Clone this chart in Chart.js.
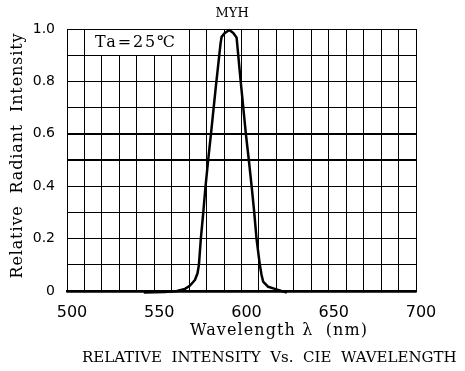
<!DOCTYPE html>
<html>
<head>
<meta charset="utf-8">
<script src="https://cdn.jsdelivr.net/npm/chart.js@4.4.0/dist/chart.umd.min.js"></script>
<style>
  html, body { margin: 0; padding: 0; background: #fff; }
  #wrap { width: 465px; height: 371px; position: relative; }
</style>
</head>
<body>
<div id="wrap"><canvas id="c" width="465" height="371"></canvas></div>
<script>
// ---- data ----
const wavelengths = [544, 556, 563, 567.6, 570.4, 573.3, 574.8, 575.6, 576.7, 578.1, 579.4, 580.9, 582.5, 585.3, 588.0, 588.6, 590.5, 593.0, 595.3, 597.2, 599.4, 602.5, 604.2, 605.8, 607.3, 608.6, 610.5, 611.5, 612.4, 615.3, 619.1, 626];
const intensity   = [-0.006, -0.004, 0.0, 0.008, 0.02, 0.042, 0.068, 0.1, 0.2, 0.3, 0.4, 0.5, 0.6, 0.78, 0.945, 0.97, 0.985, 0.996, 0.985, 0.967, 0.81, 0.6, 0.5, 0.4, 0.3, 0.2, 0.1, 0.061, 0.036, 0.016, 0.008, -0.006];
const xTickLabels = [500, 550, 600, 650, 700];
const yTickLabels = ['0', '0.2', '0.4', '0.6', '0.8', '1.0'];
const thickYLines = [0, 0.5, 0.6];
const chartTitle = 'MYH';
const conditionLabel = 'Ta=25℃';
const xTitle = 'Wavelength λ  (nm)';
const yTitle = 'Relative  Radiant  Intensity';
const bottomCaption = 'RELATIVE  INTENSITY  Vs.  CIE  WAVELENGTH';

const points = wavelengths.map((w, i) => ({ x: w, y: intensity[i] }));
const near = (a, b) => Math.abs(a - b) < 1e-6;

// draw text centred at (cx, cy), spread with letter spacing to a target width
function fitText(ctx, text, cx, cy, width) {
  ctx.letterSpacing = '0px';
  const w0 = ctx.measureText(text).width;
  const n = [...text].length;
  const ls = n > 1 ? Math.max(0, (width - w0) / (n - 1)) : 0;
  ctx.letterSpacing = ls + 'px';
  ctx.textAlign = 'left';
  ctx.fillText(text, cx - width / 2, cy);
  ctx.letterSpacing = '0px';
}

const textPlugin = {
  id: 'texts',
  beforeDatasetsDraw(chart) {
    const { ctx, scales: { x, y } } = chart;
    const x0 = x.getPixelForValue(510), x1 = x.getPixelForValue(570);
    const y0 = y.getPixelForValue(1.0), y1 = y.getPixelForValue(0.9);
    ctx.save();
    ctx.fillStyle = '#fff';
    ctx.fillRect(Math.round(x0) + 1, Math.round(y0) + 1, Math.round(x1) - Math.round(x0) - 1, Math.round(y1) - Math.round(y0) - 1);
    ctx.fillStyle = '#000';
    ctx.font = '16px "DejaVu Serif"';
    ctx.textBaseline = 'middle';
    fitText(ctx, conditionLabel, 135, (y0 + y1) / 2 + 1, 80);
    ctx.restore();
  },
  afterDraw(chart) {
    const { ctx } = chart;
    ctx.save();
    ctx.fillStyle = '#000';
    ctx.textBaseline = 'middle';
    ctx.font = '13px "DejaVu Serif"';
    fitText(ctx, chartTitle, 231, 14, 31);
    ctx.font = '16px "DejaVu Serif"';
    fitText(ctx, xTitle, 278.5, 331, 177);
    ctx.font = '15px "DejaVu Serif"';
    fitText(ctx, bottomCaption, 268.5, 358, 373);
    ctx.font = '16px "DejaVu Serif"';
    ctx.translate(18, 156);
    ctx.rotate(-Math.PI / 2);
    fitText(ctx, yTitle, 0, 0, 245);
    ctx.restore();
  }
};

new Chart(document.getElementById('c'), {
  type: 'line',
  data: {
    datasets: [{
      data: points,
      borderColor: '#000',
      borderWidth: 2.5,
      pointRadius: 0,
      fill: false,
      tension: 0,
      borderJoinStyle: 'round',
      clip: false
    }]
  },
  options: {
    responsive: false,
    animation: false,
    events: [],
    layout: { padding: { top: 29, right: 49, left: 0, bottom: 0 } },
    plugins: { legend: { display: false }, tooltip: { enabled: false }, title: { display: false } },
    scales: {
      x: {
        type: 'linear',
        min: 500, max: 700,
        afterFit(s) { s.height = 80; },
        afterBuildTicks(s) {
          const t = [];
          for (let v = 500; v <= 700; v += 10) t.push({ value: v });
          s.ticks = t;
        },
        ticks: {
          autoSkip: false,
          maxRotation: 0,
          padding: 12,
          labelOffset: 5,
          color: '#000',
          font: { family: '"DejaVu Sans"', size: 16 },
          callback(v) { const i = xTickLabels.indexOf(v); return i >= 0 ? String(xTickLabels[i]) : ''; }
        },
        grid: { color: '#000', lineWidth: 1, drawTicks: false },
        border: { display: true, color: '#000', width: 2.5 }
      },
      y: {
        type: 'linear',
        min: 0, max: 1,
        afterFit(s) { s.width = 67; },
        afterBuildTicks(s) {
          const t = [];
          for (let i = 0; i <= 10; i++) t.push({ value: i / 10 });
          s.ticks = t;
        },
        ticks: {
          autoSkip: false,
          padding: 12,
          color: '#000',
          font: { family: '"DejaVu Sans"', size: 14 },
          callback(v) {
            const i = Math.round(v * 10);
            return i % 2 === 0 ? yTickLabels[i / 2] : '';
          }
        },
        grid: {
          color: '#000',
          drawTicks: false,
          lineWidth(c) {
            const v = c.tick ? c.tick.value : null;
            if (v !== null && thickYLines.some(t => near(t, v))) return near(v, 0) ? 2.5 : 2;
            return 1;
          }
        },
        border: { display: true, color: '#000', width: 1 }
      }
    }
  },
  plugins: [textPlugin]
});
</script>
</body>
</html>
